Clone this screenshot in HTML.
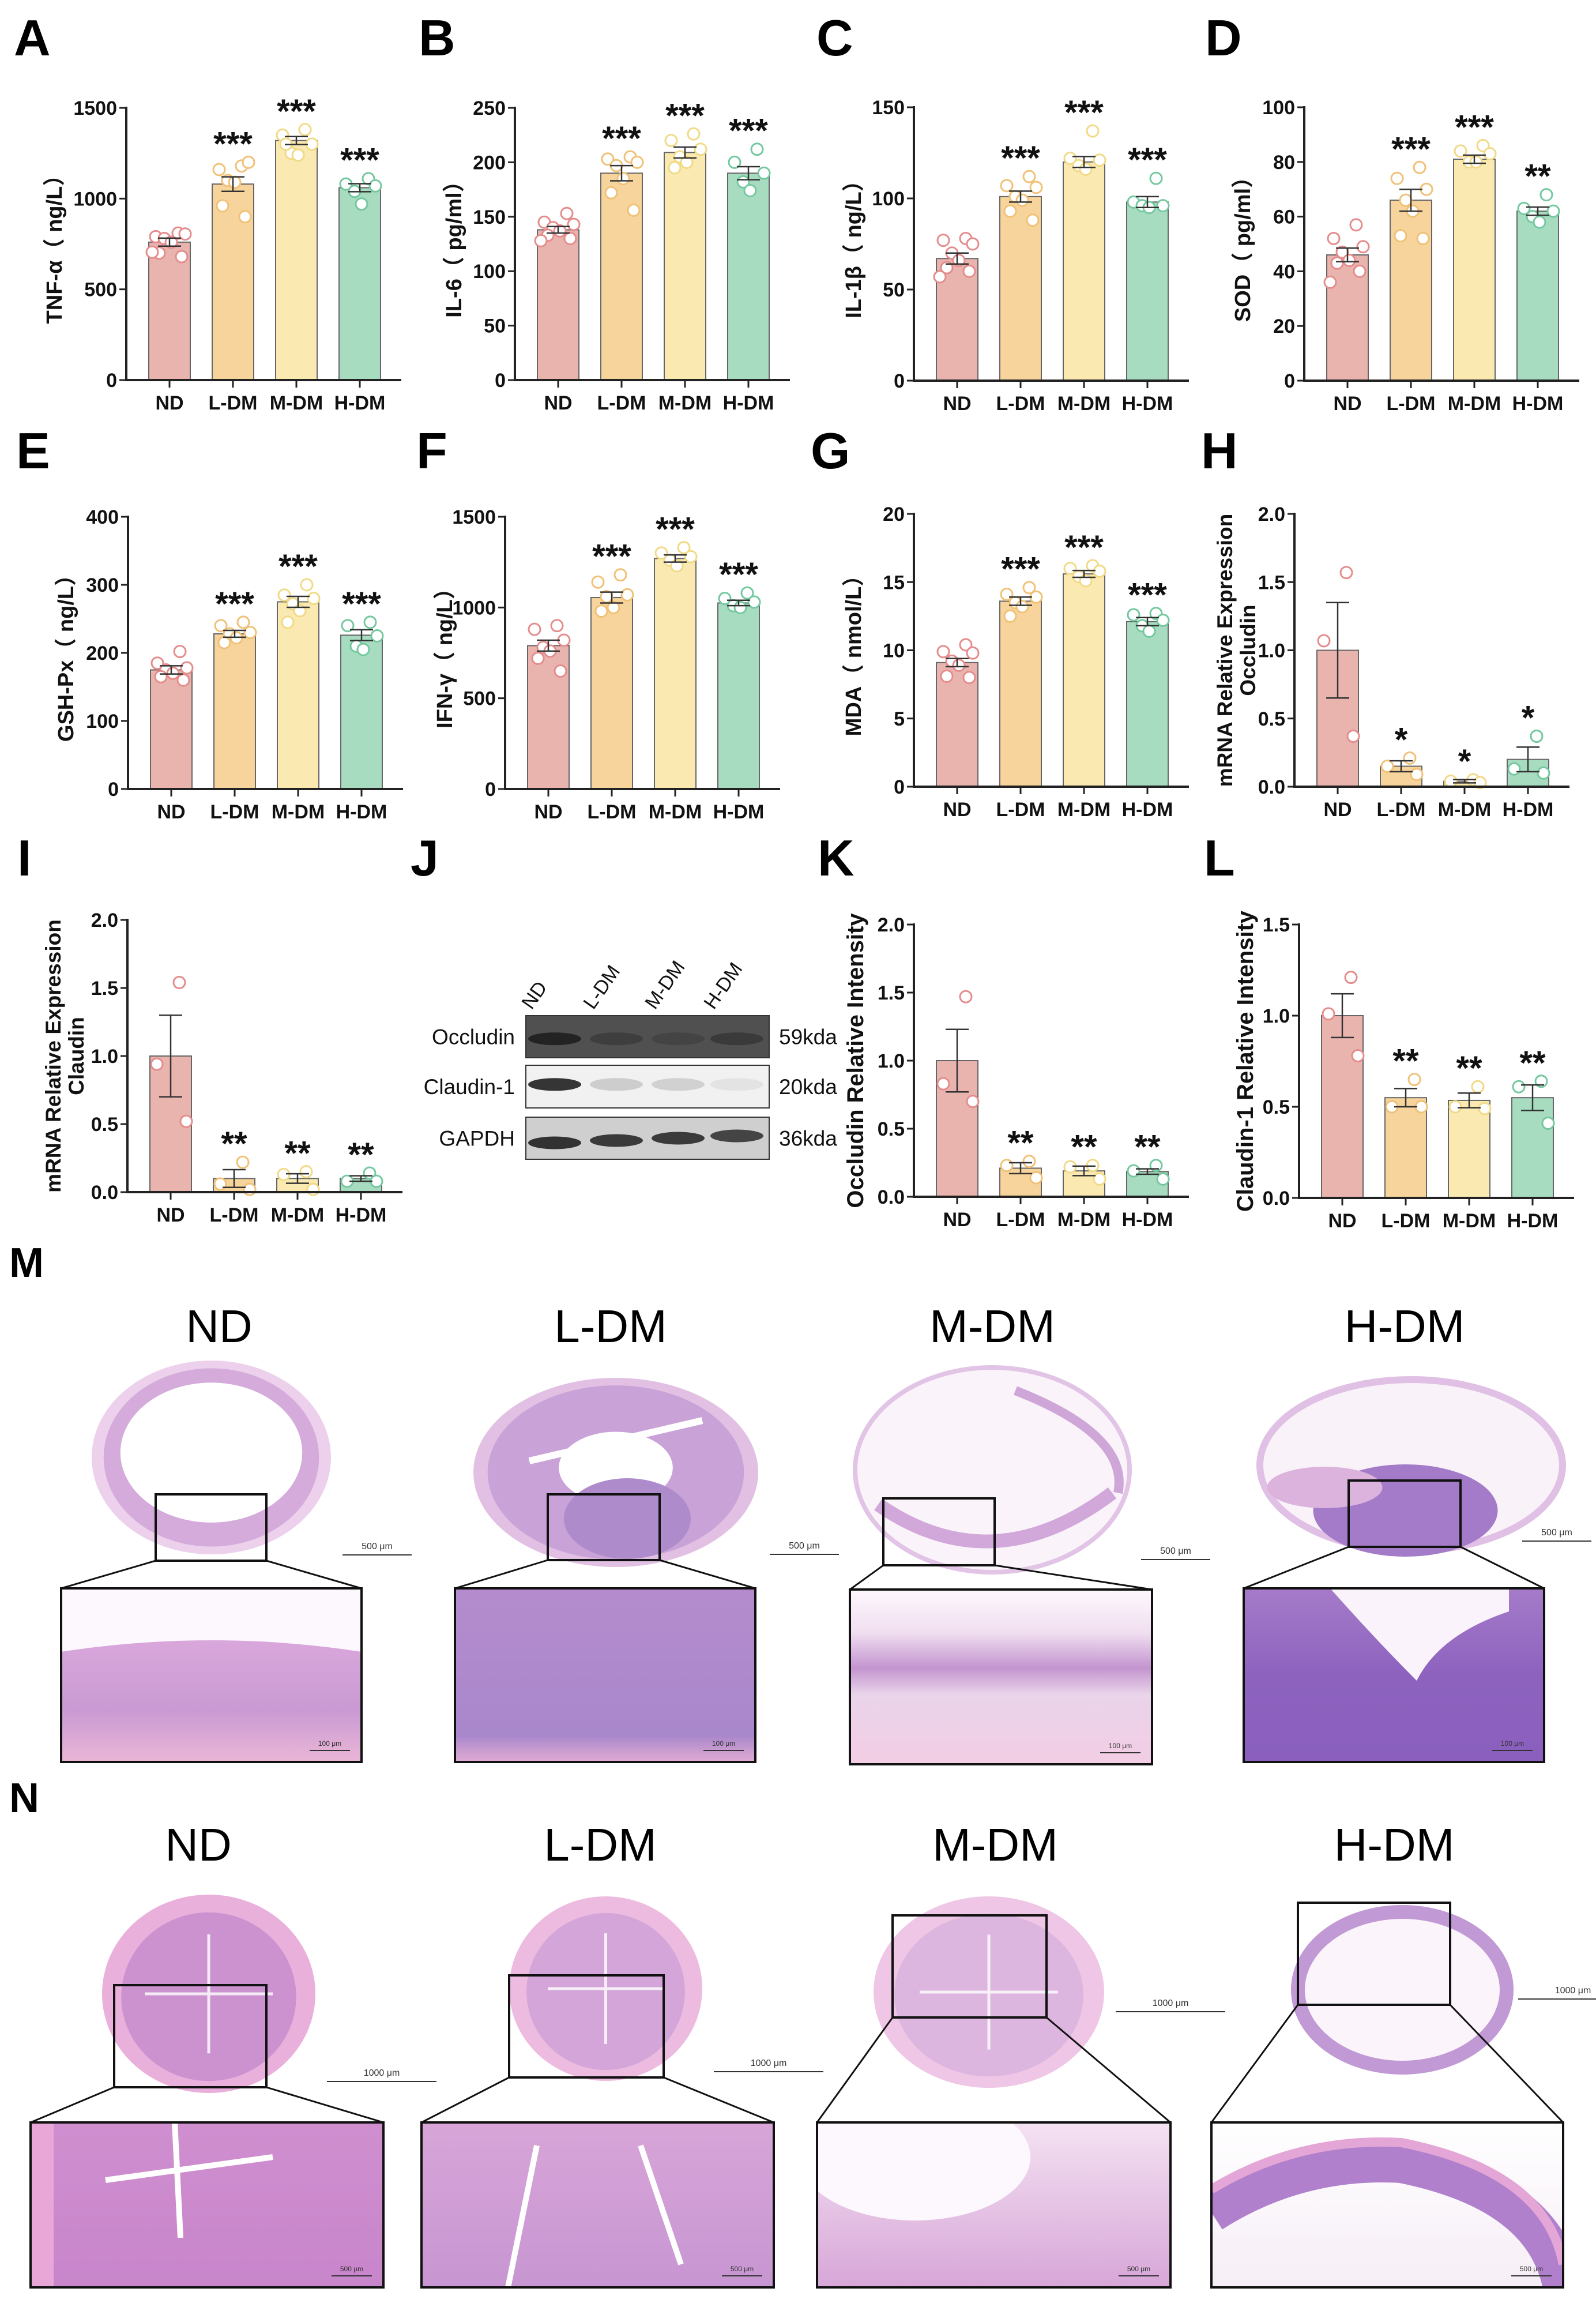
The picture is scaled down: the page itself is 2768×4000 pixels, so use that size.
<!DOCTYPE html>
<html><head><meta charset="utf-8">
<style>
html,body{margin:0;padding:0;background:#fff;}
svg{display:block;}
text{font-family:"Liberation Sans","Noto Sans CJK SC",sans-serif;}
</style></head>
<body>
<svg id="fig" xmlns="http://www.w3.org/2000/svg" width="2768" height="4000" viewBox="0 0 2768 4000">
<defs>
<linearGradient id="gMND" x1="0" y1="0" x2="0" y2="1"><stop offset="0" stop-color="#fbf3fb"/><stop offset="0.3" stop-color="#d9a7db"/><stop offset="0.7" stop-color="#c99ad3"/><stop offset="1" stop-color="#eab6d6"/></linearGradient>
<linearGradient id="gMLDM" x1="0" y1="0" x2="0" y2="1"><stop offset="0" stop-color="#b48ccd"/><stop offset="0.85" stop-color="#a987cb"/><stop offset="1" stop-color="#e2acd4"/></linearGradient>
<linearGradient id="gMMDM" x1="0" y1="0" x2="0" y2="1"><stop offset="0" stop-color="#fdf8fd"/><stop offset="0.25" stop-color="#f0def0"/><stop offset="0.45" stop-color="#c394cf"/><stop offset="0.6" stop-color="#e9d4ea"/><stop offset="1" stop-color="#f3cde4"/></linearGradient>
<linearGradient id="gMHDM" x1="0" y1="0" x2="0" y2="1"><stop offset="0" stop-color="#a57bc9"/><stop offset="0.5" stop-color="#8d62bf"/><stop offset="1" stop-color="#8a5fbe"/></linearGradient>
<linearGradient id="gNND" x1="0" y1="0" x2="0" y2="1"><stop offset="0" stop-color="#cf8fcf"/><stop offset="1" stop-color="#c885cb"/></linearGradient>
<linearGradient id="gNLDM" x1="0" y1="0" x2="0" y2="1"><stop offset="0" stop-color="#d8a5d8"/><stop offset="1" stop-color="#c796d2"/></linearGradient>
<linearGradient id="gNMDM" x1="0" y1="0" x2="0" y2="1"><stop offset="0" stop-color="#f4e2f2"/><stop offset="1" stop-color="#d7a6d8"/></linearGradient>
<linearGradient id="gNHDM" x1="0" y1="0" x2="0" y2="1"><stop offset="0" stop-color="#fff"/><stop offset="1" stop-color="#f6eef6"/></linearGradient>
</defs>
</svg>
<script>
// ---------- DATA ----------
const categories = ['ND','L-DM','M-DM','H-DM'];

const tnfMeans = [760, 1080, 1320, 1060];
const tnfSem = [22, 40, 22, 22];
const tnfPoints = [[810,790,805,780,760,700,680,705],[1180,1160,1200,1100,1090,960,900],[1380,1350,1300,1250,1240,1300],[1110,1080,1070,1040,970]];
const tnfTicks = [0,500,1000,1500];

const il6Means = [138, 190, 209, 190];
const il6Sem = [3, 7, 5, 6];
const il6Points = [[153,145,143,140,137,133,130,128],[205,203,200,197,185,172,156],[226,220,212,205,200,195],[212,200,190,182,174]];
const il6Ticks = [0,50,100,150,200,250];

const il1Means = [67, 101, 120, 98];
const il1Sem = [3, 3, 3, 3];
const il1Points = [[78,77,75,70,66,62,60,57],[112,107,106,101,99,93,88],[137,122,121,118,116],[111,98,96,96,95]];
const il1Ticks = [0,50,100,150];

const sodMeans = [46, 66, 81, 62];
const sodSem = [2.5, 4, 1.5, 1.5];
const sodPoints = [[57,52,49,47,44,43,40,36],[78,74,70,66,62,53,52],[86,84,83,80,80],[68,63,62,60,58]];
const sodTicks = [0,20,40,60,80,100];

const gshMeans = [175, 228, 275, 226];
const gshSem = [6, 5, 8, 8];
const gshPoints = [[202,185,178,175,170,165,160],[245,240,230,228,222,215],[300,285,280,272,262,245],[245,240,225,210,205]];
const gshTicks = [0,100,200,300,400];

const ifnMeans = [790, 1055, 1270, 1025];
const ifnSem = [30, 30, 20, 15];
const ifnPoints = [[900,880,820,780,760,720,650],[1180,1140,1070,1060,1000,980],[1330,1300,1280,1260,1230],[1080,1050,1030,1010,1000]];
const ifnTicks = [0,500,1000,1500];

const mdaMeans = [9.1, 13.6, 15.6, 12.1];
const mdaSem = [0.3, 0.3, 0.25, 0.3];
const mdaPoints = [[10.4,9.9,9.8,9.2,8.9,8.1,8.0],[14.6,14.1,13.9,13.5,13.2,12.5],[16.2,16.0,15.8,15.4,15.1],[12.7,12.6,12.2,11.8,11.4]];
const mdaTicks = [0,5,10,15,20];

const occMrnaMeans = [1.0, 0.15, 0.04, 0.20];
const occMrnaSem = [0.35, 0.04, 0.012, 0.09];
const occMrnaPoints = [[1.57,1.07,0.37],[0.21,0.15,0.09],[0.05,0.04,0.03],[0.37,0.13,0.10]];
const mrnaTicks = [0,0.5,1.0,1.5,2.0];

const clMrnaMeans = [1.0, 0.10, 0.10, 0.10];
const clMrnaSem = [0.30, 0.065, 0.035, 0.02];
const clMrnaPoints = [[1.54,0.94,0.52],[0.22,0.06,0.02],[0.15,0.13,0.02],[0.14,0.08,0.08]];

const occIntMeans = [1.0, 0.21, 0.19, 0.185];
const occIntSem = [0.23, 0.04, 0.035, 0.02];
const occIntPoints = [[1.47,0.83,0.70],[0.26,0.23,0.14],[0.23,0.22,0.13],[0.23,0.19,0.13]];
const occIntTicks = [0,0.5,1.0,1.5,2.0];

const clIntMeans = [1.0, 0.55, 0.535, 0.55];
const clIntSem = [0.12, 0.05, 0.04, 0.07];
const clIntPoints = [[1.21,1.01,0.78],[0.65,0.50,0.50],[0.61,0.50,0.49],[0.64,0.61,0.41]];
const clIntTicks = [0,0.5,1.0,1.5];

const starsTriple = ['***','***','***'];
const starsSOD = ['***','***','**'];
const starsSingle = ['*','*','*'];
const starsDouble = ['**','**','**'];

// ---------- RENDER ----------
const NS = 'http://www.w3.org/2000/svg';
const svg = document.getElementById('fig');
function mk(tag, attrs, parent){
  const e = document.createElementNS(NS, tag);
  for (const k in attrs) e.setAttribute(k, attrs[k]);
  (parent||svg).appendChild(e);
  return e;
}
function txt(str, attrs, parent){
  const t = mk('text', attrs, parent);
  t.textContent = str;
  return t;
}
const barFill = ['#e9b3ae','#f6d49b','#faeab2','#a7dcc0'];
const ptStroke = ['#e58c8c','#f0c177','#f1da86','#74c89f'];
const jitterOrder = [0.5,-0.8,0.9,-0.3,0.1,-0.6,0.7,-1.0];

function chart(name, ax, top, zero, maxV, ticks, dec, means, sems, points, stars, title){
  const g = mk('g', {});
  
  
  const y = v => zero - (v / maxV) * (zero - top);
  const cxOf = i => ax + 75 + i * 110;
  means.forEach((m, i) => {
    const cx = cxOf(i);
    const r = mk('rect', {x: cx - 36, y: y(m), width: 72, height: zero - y(m), fill: barFill[i], stroke: '#666', 'stroke-width': 2}, g);
    
    
  });
  points.forEach((pts, i) => {
    const cx = cxOf(i);
    pts.forEach((v, j) => {
      const off = pts.length > 1 ? jitterOrder[j % 8] * 30 : 0;
      const c = mk('circle', {cx: cx + off, cy: y(v), r: 10, fill: '#fff', stroke: ptStroke[i], 'stroke-width': 3}, g);
      
      
    });
  });
  means.forEach((m, i) => {
    const cx = cxOf(i), s = sems[i];
    mk('line', {x1: cx, x2: cx, y1: y(m + s), y2: y(Math.max(0, m - s)), stroke: '#333', 'stroke-width': 2.5}, g);
    mk('line', {x1: cx - 20, x2: cx + 20, y1: y(m + s), y2: y(m + s), stroke: '#333', 'stroke-width': 2.5}, g);
    mk('line', {x1: cx - 20, x2: cx + 20, y1: y(Math.max(0, m - s)), y2: y(Math.max(0, m - s)), stroke: '#333', 'stroke-width': 2.5}, g);
  });
  stars.forEach((s, k) => {
    const i = k + 1, cx = cxOf(i);
    const topY = Math.min(y(Math.max(...points[i])) - 10, y(means[i] + sems[i]));
    const t = txt(s, {x: cx, y: topY - 2, 'text-anchor': 'middle', 'font-size': 58, 'font-weight': 'bold', fill: '#111'}, g);
    
    
  });
  mk('line', {x1: ax, x2: ax, y1: top - 2, y2: zero + 2, stroke: '#222', 'stroke-width': 4}, g);
  mk('line', {x1: ax - 2, x2: ax + 477, y1: zero, y2: zero, stroke: '#222', 'stroke-width': 4}, g);
  ticks.forEach(t => {
    mk('line', {x1: ax - 12, x2: ax, y1: y(t), y2: y(t), stroke: '#222', 'stroke-width': 3}, g);
    const tl = txt(t.toFixed(dec), {x: ax - 16, y: y(t) + 12, 'text-anchor': 'end', 'font-size': 34, 'font-weight': 'bold', fill: '#111'}, g);
    
    
  });
  categories.forEach((c, i) => {
    const cx = cxOf(i);
    mk('line', {x1: cx, x2: cx, y1: zero, y2: zero + 13, stroke: '#222', 'stroke-width': 3}, g);
    const cl = txt(c, {x: cx, y: zero + 51, 'text-anchor': 'middle', 'font-size': 34, 'font-weight': 'bold', fill: '#111'}, g);
    
    
  });
  const mid = (top + zero) / 2;
  title.lines.forEach((ln, k) => {
    const tx = ax + title.dx[k];
    const tt = txt(ln, {x: tx, y: mid, 'text-anchor': 'middle', 'font-size': title.size, 'font-weight': 'bold', fill: '#111', transform: 'rotate(-90 ' + tx + ' ' + mid + ')'}, g);
    
    
  });
}

chart('tnf', 219, 187, 659, 1500, tnfTicks, 0, tnfMeans, tnfSem, tnfPoints, starsTriple, {lines:['TNF-α（ ng/L）'], dx:[-112], size:38});
chart('il6', 893, 187, 659, 250, il6Ticks, 0, il6Means, il6Sem, il6Points, starsTriple, {lines:['IL-6（ pg/ml）'], dx:[-93], size:38});
chart('il1b', 1585, 186, 660, 150, il1Ticks, 0, il1Means, il1Sem, il1Points, starsTriple, {lines:['IL-1β（ ng/L）'], dx:[-92], size:38});
chart('sod', 2262, 186, 660, 100, sodTicks, 0, sodMeans, sodSem, sodPoints, starsSOD, {lines:['SOD（ pg/ml）'], dx:[-94], size:38});
chart('gshpx', 222, 896, 1368, 400, gshTicks, 0, gshMeans, gshSem, gshPoints, starsTriple, {lines:['GSH-Px（ ng/L）'], dx:[-95], size:38});
chart('ifn', 876, 896, 1368, 1500, ifnTicks, 0, ifnMeans, ifnSem, ifnPoints, starsTriple, {lines:['IFN-γ（ ng/L）'], dx:[-92], size:38});
chart('mda', 1585, 891, 1364, 20, mdaTicks, 0, mdaMeans, mdaSem, mdaPoints, starsTriple, {lines:['MDA（ nmol/L）'], dx:[-92], size:38});
chart('occludin-mrna', 2245, 891, 1364, 2, mrnaTicks, 1, occMrnaMeans, occMrnaSem, occMrnaPoints, starsSingle, {lines:['mRNA Relative Expression','Occludin'], dx:[-108,-68], size:37});
chart('claudin-mrna', 221, 1595, 2067, 2, mrnaTicks, 1, clMrnaMeans, clMrnaSem, clMrnaPoints, starsDouble, {lines:['mRNA Relative Expression','Claudin'], dx:[-116,-76], size:37});
chart('occludin-intensity', 1585, 1603, 2075, 2, occIntTicks, 1, occIntMeans, occIntSem, occIntPoints, starsDouble, {lines:['Occludin Relative Intensity'], dx:[-88], size:40});
chart('claudin-intensity', 2253, 1603, 2077, 1.5, clIntTicks, 1, clIntMeans, clIntSem, clIntPoints, starsDouble, {lines:['Claudin-1 Relative Intensity'], dx:[-80], size:40});

const letters = [['A',24,96],['B',726,96],['C',1416,96],['D',2090,96],['E',28,812],['F',722,812],['G',1406,812],['H',2083,812],['I',30,1518],['J',712,1518],['K',1418,1518],['L',2088,1518]];
letters.forEach(l => {
  const t = txt(l[0], {x: l[1], y: l[2], 'font-size': 88, 'font-weight': 'bold', fill: '#000'});
  
  
});
['M','N'].forEach((l, k) => {
  const t = txt(l, {x: 16, y: k ? 3142 : 2214, 'font-size': 72, 'font-weight': 'bold', fill: '#000'});
  
  
});

// ---------- Western blot (J) ----------
const blot = mk('g', {});


const laneX = [962, 1069, 1176, 1278];
const blotRows = [
  {name:'Occludin', kda:'59kda', y:1761, h:73, bg:'#505050', band:'#1e1e1e', bandY:0.55, inten:[0.9,0.35,0.25,0.45]},
  {name:'Claudin-1', kda:'20kda', y:1847, h:74, bg:'#f1f1f1', band:'#2a2a2a', bandY:0.45, inten:[0.95,0.18,0.16,0.07]},
  {name:'GAPDH', kda:'36kda', y:1937, h:73, bg:'#cfcfcf', band:'#202020', bandY:0.5, inten:[0.9,0.85,0.85,0.8]}
];
blotRows.forEach(r => {
  mk('rect', {x: 912, y: r.y, width: 422, height: r.h, fill: r.bg, stroke: '#333', 'stroke-width': 2}, blot);
  laneX.forEach((lx, i) => {
    const by = r.y + r.h * r.bandY + (r.name === 'GAPDH' ? (2 - i) * 4 : 0);
    const e = mk('ellipse', {cx: lx, cy: by, rx: 46, ry: 11, fill: r.band, opacity: r.inten[i]}, blot);
    
    
  });
  const t1 = txt(r.name, {x: 893, y: r.y + r.h / 2 + 13, 'text-anchor': 'end', 'font-size': 37, fill: '#111'}, blot);
  
  
  const t2 = txt(r.kda, {x: 1351, y: r.y + r.h / 2 + 13, 'font-size': 37, fill: '#111'}, blot);
  
  
});
categories.forEach((c, i) => {
  const x0 = laneX[i] - 40, y0 = 1752;
  const t = txt(c, {x: x0, y: y0, 'font-size': 34, fill: '#111', transform: 'rotate(-55 ' + x0 + ' ' + y0 + ')'}, blot);
  
  
});

// ---------- Histology ----------
function histo(sec, title, tx, ty, blob, box, big, fillId, drawBlob, drawBig, scale){
  const g = mk('g', {});
  
  
  const t = txt(title, {x: tx, y: ty + 29, 'text-anchor': 'middle', 'font-size': 80, fill: '#000'}, g);
  
  
  drawBlob(g, blob);
  const cp = 'cp' + sec + title.replace('-','');
  const clip = mk('clipPath', {id: cp}, g);
  mk('rect', {x: big[0], y: big[1], width: big[2]-big[0], height: big[3]-big[1]}, clip);
  const bg = mk('g', {'clip-path': 'url(#' + cp + ')'}, g);
  mk('rect', {x: big[0], y: big[1], width: big[2]-big[0], height: big[3]-big[1], fill: 'url(#' + fillId + ')'}, bg);
  drawBig(bg, big);
  mk('rect', {x: big[0], y: big[1], width: big[2]-big[0], height: big[3]-big[1], fill: 'none', stroke: '#111', 'stroke-width': 4}, g);
  mk('rect', {x: box[0], y: box[1], width: box[2]-box[0], height: box[3]-box[1], fill: 'none', stroke: '#111', 'stroke-width': 4}, g);
  mk('line', {x1: box[0], y1: box[3], x2: big[0], y2: big[1], stroke: '#111', 'stroke-width': 3}, g);
  mk('line', {x1: box[2], y1: box[3], x2: big[2], y2: big[1], stroke: '#111', 'stroke-width': 3}, g);
  const sx = Math.min(blob[2] + 20, 2640), sy = box[3] - 10;
  mk('line', {x1: big[2]-90, x2: big[2]-20, y1: big[3]-20, y2: big[3]-20, stroke: '#333', 'stroke-width': 2}, g);
  txt(scale[1], {x: big[2]-55, y: big[3]-28, 'text-anchor': 'middle', 'font-size': 12, fill: '#333'}, g);
  mk('line', {x1: sx, x2: sx + (sec === 'n' ? 190 : 120), y1: sy, y2: sy, stroke: '#333', 'stroke-width': 2}, g);
  txt(scale[0], {x: sx + (sec === 'n' ? 95 : 60), y: sy - 10, 'text-anchor': 'middle', 'font-size': 16, fill: '#333'}, g);
}
function ringBlob(outer, inner, lumen){
  return (g, b) => {
    const cx = (b[0]+b[2])/2, cy = (b[1]+b[3])/2, rx = (b[2]-b[0])/2, ry = (b[3]-b[1])/2;
    mk('ellipse', {cx, cy, rx, ry, fill: outer}, g);
    mk('ellipse', {cx, cy, rx: rx*0.9, ry: ry*0.92, fill: inner}, g);
    mk('ellipse', {cx, cy: cy - ry*0.05, rx: rx*lumen, ry: ry*lumen*0.95, fill: '#fff'}, g);
  };
}
function noDetail(){ return () => {}; }

histo('m','ND',380,2298,[159,2359,574,2695],[270,2591,462,2706],[106,2754,627,3055],'gMND', ringBlob('#ecd0ec','#d4abdb',0.76), (g,b)=>{
  mk('path',{d:`M${b[0]} ${b[1]} H${b[2]} V${b[1]+110} Q${(b[0]+b[2])/2} ${b[1]+70} ${b[0]} ${b[1]+110} Z`, fill:'#fdf8fd'}, g);
}, ['500 μm','100 μm']);
histo('m','L-DM',1059,2298,[821,2389,1315,2717],[950,2591,1144,2705],[789,2754,1310,3055],'gMLDM', (g,b)=>{
  ringBlob('#e2c0e3','#c9a2d8',0.4)(g,b);
  const cx=(b[0]+b[2])/2, cy=(b[1]+b[3])/2;
  mk('path',{d:`M${cx-150} ${cy-20} L${cx+150} ${cy-90} M${cx} ${cy-60} L${cx+80} ${cy+120}`,stroke:'#fff','stroke-width':12},g);
  mk('ellipse',{cx:cx+20,cy:cy+80,rx:110,ry:70,fill:'#ae8bcb'},g);
}, noDetail(), ['500 μm','100 μm']);
histo('m','M-DM',1721,2298,[1483,2371,1959,2726],[1532,2598,1725,2714],[1474,2756,1998,3059],'gMMDM', (g,b)=>{
  const cx=(b[0]+b[2])/2, cy=(b[1]+b[3])/2, rx=(b[2]-b[0])/2, ry=(b[3]-b[1])/2;
  mk('ellipse',{cx,cy,rx,ry,fill:'#faf4fa',stroke:'#e2c4e6','stroke-width':8},g);
  mk('path',{d:`M${b[0]+40} ${cy+60} Q${cx} ${b[3]+20} ${b[2]-30} ${cy+40}`,fill:'none',stroke:'#d2a8da','stroke-width':24},g);
  mk('path',{d:`M${cx+40} ${b[1]+40} Q${b[2]} ${cy-60} ${b[2]-20} ${cy+40}`,fill:'none',stroke:'#cfa6d8','stroke-width':16},g);
}, noDetail(), ['500 μm','100 μm']);
histo('m','H-DM',2436,2298,[2185,2392,2710,2689],[2339,2567,2533,2682],[2157,2754,2678,3055],'gMHDM', (g,b)=>{
  const cx=(b[0]+b[2])/2, cy=(b[1]+b[3])/2, rx=(b[2]-b[0])/2, ry=(b[3]-b[1])/2;
  mk('ellipse',{cx,cy,rx,ry,fill:'#f9f3f9',stroke:'#e0c0e4','stroke-width':12},g);
  mk('ellipse',{cx:cx-10,cy:b[3]-70,rx:160,ry:80,fill:'#a37bc8'},g);
  mk('ellipse',{cx:cx-150,cy:b[3]-110,rx:100,ry:36,fill:'#dcb3dc'},g);
}, (g,b)=>{
  mk('path',{d:`M${b[0]+150} ${b[1]} Q${b[0]+230} ${b[1]+90} ${b[0]+300} ${b[1]+160} Q${b[0]+340} ${b[1]+80} ${b[0]+460} ${b[1]+40} L${b[0]+460} ${b[1]} Z`, fill:'#fbf3fb'}, g);
}, ['500 μm','100 μm']);

function colonBlob(outer, inner){
  return (g,b)=>{
    const cx=(b[0]+b[2])/2, cy=(b[1]+b[3])/2, rx=(b[2]-b[0])/2, ry=(b[3]-b[1])/2;
    mk('ellipse',{cx,cy,rx,ry,fill:outer},g);
    mk('ellipse',{cx,cy:cy+5,rx:rx*0.82,ry:ry*0.85,fill:inner},g);
    mk('path',{d:`M${cx} ${cy-ry*0.6} L${cx} ${cy+ry*0.6} M${cx-rx*0.6} ${cy} L${cx+rx*0.6} ${cy}`,stroke:'#fff','stroke-width':5,opacity:0.8},g);
  };
}
histo('n','ND',344,3197,[177,3285,547,3629],[198,3442,462,3619],[53,3680,665,3966],'gNND', colonBlob('#eab0dc','#cc92d0'), (g,b)=>{
  mk('rect',{x:b[0],y:b[1],width:40,height:b[3]-b[1],fill:'#e9a7d8'},g);
  mk('path',{d:`M${b[0]+250} ${b[1]} L${b[0]+260} ${b[1]+200} M${b[0]+130} ${b[1]+100} L${b[0]+420} ${b[1]+60}`,stroke:'#fff','stroke-width':10,fill:'none'},g);
}, ['1000 μm','500 μm']);
histo('n','L-DM',1041,3197,[883,3288,1218,3608],[883,3425,1151,3602],[731,3680,1342,3966],'gNLDM', colonBlob('#eebbe0','#d3a5d8'), (g,b)=>{
  mk('path',{d:`M${b[0]+200} ${b[1]+40} L${b[0]+150} ${b[3]} M${b[0]+380} ${b[1]+40} L${b[0]+450} ${b[3]-40}`,stroke:'#fff','stroke-width':10,fill:'none'},g);
}, ['1000 μm','500 μm']);
histo('n','M-DM',1726,3197,[1515,3288,1915,3620],[1548,3321,1815,3498],[1417,3680,2030,3966],'gNMDM', (g,b)=>{
  colonBlob('#efc6e5','#dcb6de')(g,b);
}, (g,b)=>{
  mk('ellipse',{cx:b[0]+170,cy:b[1]+60,rx:200,ry:110,fill:'#fdf8fd'},g);
}, ['1000 μm','500 μm']);
histo('n','H-DM',2418,3197,[2251,3315,2613,3585],[2251,3299,2515,3476],[2101,3680,2711,3966],'gNHDM', (g,b)=>{
  const cx=(b[0]+b[2])/2, cy=(b[1]+b[3])/2, rx=(b[2]-b[0])/2, ry=(b[3]-b[1])/2;
  mk('ellipse',{cx,cy,rx,ry,fill:'#fbf5fb',stroke:'#c199d5','stroke-width':24},g);
}, (g,b)=>{
  mk('path',{d:`M${b[0]} ${b[3]-130} Q${b[0]+150} ${b[1]+60} ${b[0]+330} ${b[1]+70} Q${b[2]-30} ${b[1]+120} ${b[2]} ${b[3]}`,fill:'none',stroke:'#b080cc','stroke-width':70},g);
  mk('path',{d:`M${b[0]} ${b[3]-170} Q${b[0]+150} ${b[1]+25} ${b[0]+330} ${b[1]+35} Q${b[2]-30} ${b[1]+85} ${b[2]} ${b[3]-40}`,fill:'none',stroke:'#e3a6d6','stroke-width':16},g);
}, ['1000 μm','500 μm']);
</script>
</body></html>
